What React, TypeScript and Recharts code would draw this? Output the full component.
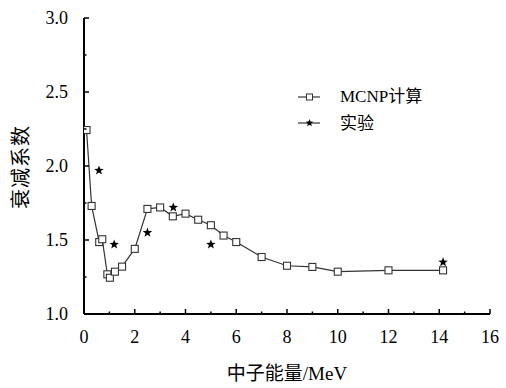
import React from 'react';
import { ComposedChart, Line, Scatter, XAxis, YAxis, Legend } from 'recharts';

const mcnpEnergy = [0.1, 0.3, 0.6, 0.72, 0.92, 1.02, 1.22, 1.5, 2.0, 2.5, 3.0, 3.5, 4.0, 4.5, 5.0, 5.5, 6.0, 7.0, 8.0, 9.0, 10.0, 12.0, 14.15];
const mcnpValue = [2.243, 1.73, 1.486, 1.505, 1.268, 1.245, 1.286, 1.32, 1.44, 1.71, 1.72, 1.66, 1.678, 1.637, 1.6, 1.53, 1.486, 1.385, 1.326, 1.318, 1.286, 1.295, 1.295];
const expEnergy = [0.59, 1.19, 2.5, 3.52, 5.0, 14.15];
const expValue = [1.97, 1.47, 1.55, 1.72, 1.47, 1.35];
const xTicks = [0, 1, 2, 3, 4, 5, 6, 7, 8, 9, 10, 11, 12, 13, 14, 15, 16];
const yTicks = [1.0, 1.25, 1.5, 1.75, 2.0, 2.25, 2.5, 2.75, 3.0];
const seriesNames = ['MCNP计算', '实验'];
const xLabel = '中子能量/MeV';
const yLabel = '衰减系数';

const mcnpData = mcnpEnergy.map((x, i) => ({ x, y: mcnpValue[i] }));
const expData = expEnergy.map((x, i) => ({ x, y: expValue[i] }));

const SERIF = "'Liberation Serif', serif";
const CJK = "'Noto Sans CJK SC'";
const LINE_COLOR = '#333';

const starPoints = (cx: number, cy: number, R: number, r: number) => {
  const pts: string[] = [];
  for (let i = 0; i < 10; i++) {
    const rad = i % 2 === 0 ? R : r;
    const a = -Math.PI / 2 + (i * Math.PI) / 5;
    pts.push(`${cx + rad * Math.cos(a)},${cy + rad * Math.sin(a)}`);
  }
  return pts.join(' ');
};

// split mixed text into latin and CJK runs so each uses its own font
const runs = (s: string) => {
  const out: { t: string; cjk: boolean }[] = [];
  for (const ch of s) {
    const cjk = /[\u3000-\u9fff\uff00-\uffef]/.test(ch);
    const last = out[out.length - 1];
    if (last && last.cjk === cjk) last.t += ch;
    else out.push({ t: ch, cjk });
  }
  return out.map((r, i) => (
    <tspan key={i} fontFamily={r.cjk ? CJK : SERIF}>
      {r.t}
    </tspan>
  ));
};

const XTick = (props: any) => {
  const { x, y, payload } = props;
  const v = payload.value;
  const major = v % 2 === 0;
  return (
    <g>
      <line x1={x} x2={x} y1={y} y2={y - (major ? 5 : 2.5)} stroke="#000" strokeWidth={1.5} />
      {major && (
        <text x={x} y={y + 29} textAnchor="middle" fontFamily={SERIF} fontSize={18} fill="#000">
          {v}
        </text>
      )}
    </g>
  );
};

const YTick = (props: any) => {
  const { x, y, payload } = props;
  const v = payload.value;
  const major = Math.abs(v * 2 - Math.round(v * 2)) < 1e-6;
  return (
    <g>
      <line x1={x} x2={x + (major ? 5 : 2.5)} y1={y} y2={y} stroke="#000" strokeWidth={1.5} />
      {major && (
        <text x={x - 16} y={y + 6} textAnchor="end" fontFamily={SERIF} fontSize={18} fill="#000">
          {v.toFixed(1)}
        </text>
      )}
    </g>
  );
};

const SquareDot = (props: any) => {
  const { cx, cy, index } = props;
  if (cx == null || cy == null) return null;
  return <rect key={`sq-${index}`} x={cx - 3.5} y={cy - 3.5} width={7} height={7} fill="#fff" stroke={LINE_COLOR} strokeWidth={1.1} />;
};

const StarShape = (props: any) => {
  const { cx, cy } = props;
  if (cx == null || cy == null) return null;
  return <polygon points={starPoints(cx, cy, 5, 2.1)} fill="#000" />;
};

const LegendContent = () => (
  <svg width={170} height={56}>
    <line x1={8} x2={30} y1={17} y2={17} stroke={LINE_COLOR} strokeWidth={1.2} />
    <rect x={16.5} y={14} width={6} height={6} fill="#fff" stroke={LINE_COLOR} strokeWidth={1} />
    <text x={50} y={22} fontSize={17} fill="#000">{runs(seriesNames[0])}</text>
    <line x1={8} x2={30} y1={43} y2={43} stroke={LINE_COLOR} strokeWidth={1.2} />
    <polygon points={starPoints(19.5, 43, 4, 1.7)} fill="#000" />
    <text x={50} y={49} fontSize={17} fill="#000">{runs(seriesNames[1])}</text>
  </svg>
);

const XLabel = (props: any) => {
  const vb = props.viewBox || { x: 84, y: 314, width: 406, height: 74 };
  return (
    <text x={vb.x + vb.width / 2} y={vb.y + 66} textAnchor="middle" fontSize={19} fill="#000">
      {runs(xLabel)}
    </text>
  );
};

const YLabel = (props: any) => {
  const vb = props.viewBox || { x: 0, y: 18, width: 84, height: 296 };
  const cx = vb.x + 19.5;
  const cy = vb.y + vb.height / 2 + 1;
  return (
    <text
      x={cx}
      y={cy}
      textAnchor="middle"
      dominantBaseline="central"
      transform={`rotate(-90 ${cx} ${cy})`}
      letterSpacing={1}
      fontFamily={CJK}
      fontSize={20}
      fill="#000"
    >
      {yLabel}
    </text>
  );
};

export default function App() {
  return (
    <div style={{ position: 'absolute', left: 0, top: 0, background: '#fff' }}>
      <ComposedChart width={506} height={388} margin={{ top: 18, right: 16, bottom: 0, left: 0 }}>
        <XAxis
          dataKey="x"
          type="number"
          domain={[0, 16]}
          ticks={xTicks}
          interval={0}
          tickSize={0}
          tickMargin={0}
          tickLine={false}
          tick={XTick}
          height={74}
          axisLine={{ stroke: '#000', strokeWidth: 2 }}
          allowDataOverflow
          label={{ content: XLabel }}
        />
        <YAxis
          type="number"
          domain={[1, 3]}
          ticks={yTicks}
          interval={0}
          tickSize={0}
          tickMargin={0}
          tickLine={false}
          tick={YTick}
          width={84}
          axisLine={{ stroke: '#000', strokeWidth: 2 }}
          allowDataOverflow
          label={{ content: YLabel }}
        />
        <Legend
          layout="vertical"
          align="center"
          verticalAlign="middle"
          wrapperStyle={{ position: 'absolute', left: 290, top: 80, width: 170, height: 56 }}
          content={LegendContent}
        />
        <Line
          data={mcnpData}
          dataKey="y"
          stroke={LINE_COLOR}
          strokeWidth={1.2}
          dot={SquareDot}
          activeDot={false}
          isAnimationActive={false}
          name={seriesNames[0]}
        />
        <Scatter
          data={expData}
          dataKey="y"
          shape={StarShape}
          isAnimationActive={false}
          name={seriesNames[1]}
        />
      </ComposedChart>
    </div>
  );
}
